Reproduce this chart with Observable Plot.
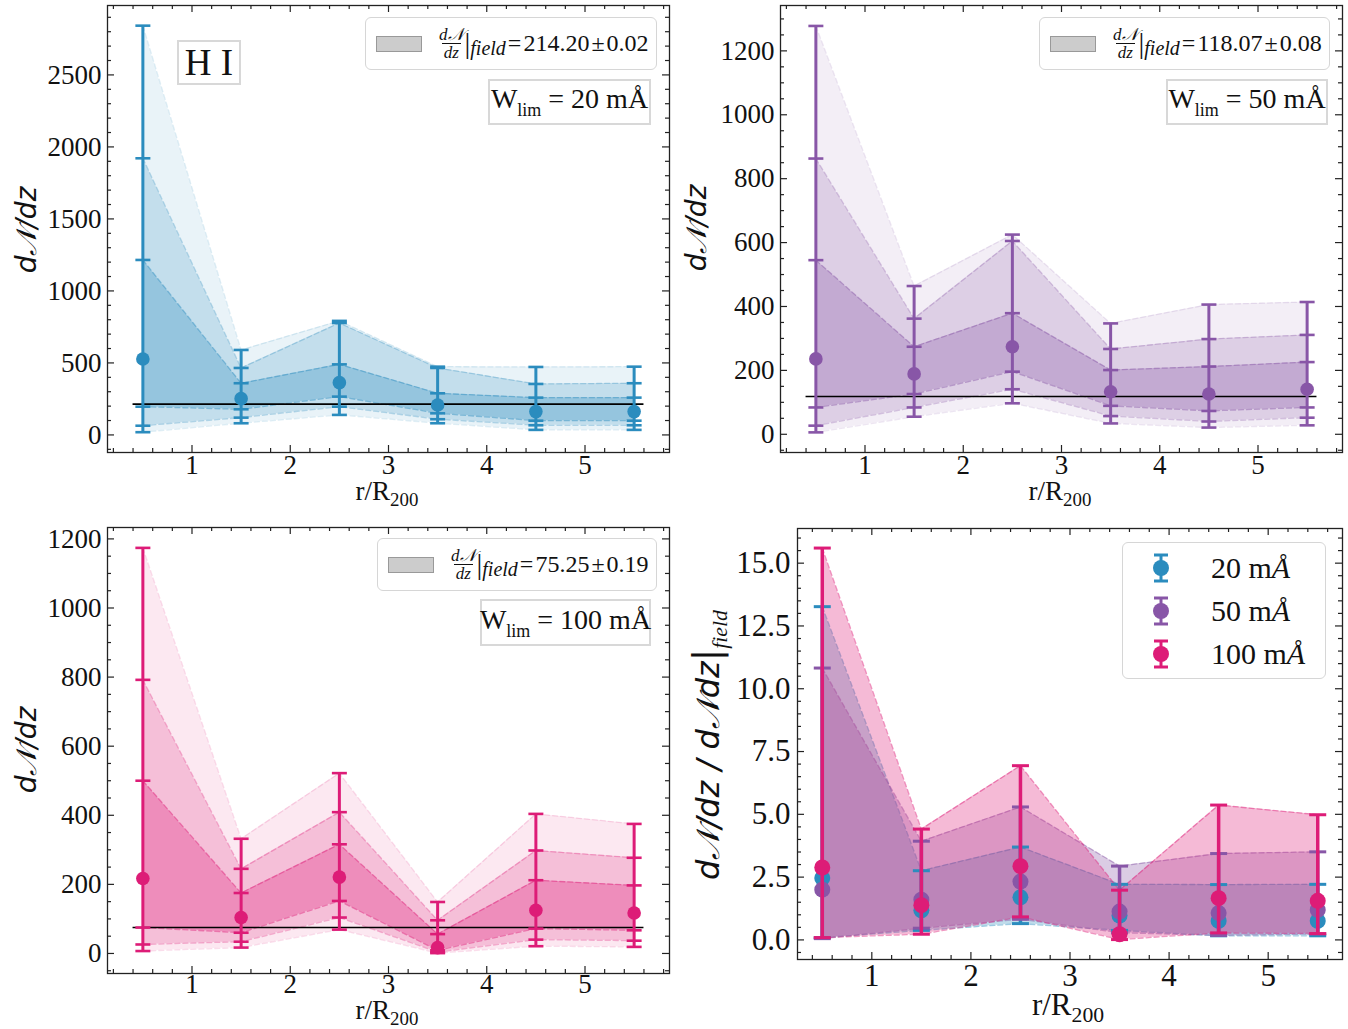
<!DOCTYPE html>
<html><head><meta charset="utf-8">
<script src="https://cdn.jsdelivr.net/npm/d3@7"></script>
<script src="https://cdn.jsdelivr.net/npm/@observablehq/plot@0.6"></script>
<style>
body{margin:0;background:#fff;}
#fig{position:relative;width:1348px;height:1029px;font-family:"Liberation Serif","DejaVu Serif",serif;color:#111;overflow:hidden;}
.panel{position:absolute;}
.ov{position:absolute;box-sizing:border-box;white-space:nowrap;}
.leg{border:1px solid #d6d6d6;border-radius:6px;background:rgba(255,255,255,0.85);display:flex;align-items:center;font-size:24px;}
.sw{display:inline-block;width:46px;height:16px;background:#cccccc;border:1px solid #999;box-sizing:border-box;margin-left:10px;margin-right:17px;}
.fr{display:inline-flex;flex-direction:column;align-items:center;font-size:17px;font-style:italic;line-height:17px;}
.fr .den{border-top:1.5px solid #111;padding:0 2px;}
.bar{font-size:29px;margin-left:1px;}
.fsub{font-style:italic;font-size:20px;position:relative;top:5px;margin-right:2px;}
.box{border:2px solid #d8d8d8;background:#fff;display:flex;align-items:center;justify-content:center;font-size:28px;}
.box sub{font-size:18px;vertical-align:-8px;}
.ylab{position:absolute;transform:translate(-50%,-50%) rotate(-90deg);font-family:"DejaVu Sans",sans-serif;font-style:italic;white-space:nowrap;line-height:1;}
.xlab{position:absolute;transform:translate(-50%,-50%);white-space:nowrap;line-height:1;}
.xlab sub{font-size:0.7em;vertical-align:-0.3em;line-height:1;}
.l4{border:1px solid #d6d6d6;border-radius:6px;background:rgba(255,255,255,0.85);}
.l4row{position:absolute;left:0;display:flex;align-items:center;font-size:30px;}
</style>
</head><body>
<div id="fig"></div>
<script>
// ---------------- data ----------------
const rBins = [0.5, 1.5, 2.5, 3.5, 4.5, 5.5];

// W_lim = 20 mÅ
const val20 = [527, 252, 363, 208, 162, 162];
const up1_20 = [1215, 359, 490, 289, 259, 259];
const up2_20 = [1921, 465, 777, 465, 354, 359];
const up3_20 = [2842, 590, 792, 474, 472, 474];
const lo1_20 = [196, 178, 266, 150, 99, 99];
const lo2_20 = [64, 120, 196, 109, 67, 67];
const lo3_20 = [19, 81, 139, 81, 35, 35];
const field20 = 214.20;

// W_lim = 50 mÅ
const val50 = [236, 189, 274, 133, 126, 141];
const up1_50 = [545, 274, 379, 201, 212, 226];
const up2_50 = [863, 362, 605, 267, 298, 311];
const up3_50 = [1278, 464, 625, 347, 406, 414];
const lo1_50 = [84, 126, 196, 89, 73, 84];
const lo2_50 = [27, 84, 141, 57, 40, 52];
const lo3_50 = [6, 55, 97, 34, 21, 28];
const field50 = 118.07;

// W_lim = 100 mÅ
const val100 = [217, 104, 221, 17, 125, 117];
const up1_100 = [500, 175, 316, 56, 212, 197];
const up2_100 = [792, 245, 409, 96, 298, 277];
const up3_100 = [1174, 332, 522, 149, 404, 375];
const lo1_100 = [75, 60, 152, 9, 72, 67];
const lo2_100 = [26, 34, 104, 4, 40, 37];
const lo3_100 = [7, 17, 69, 1, 21, 19];
const field100 = 75.25;

const fieldSpan = [0.4, 5.6];
const xTicks = [1, 2, 3, 4, 5];
const yTicks20 = [0, 500, 1000, 1500, 2000, 2500];
const yTicks50 = [0, 200, 400, 600, 800, 1000, 1200];
const yTicks100 = [0, 200, 400, 600, 800, 1000, 1200];
const yTicksRatio = [0, 2.5, 5, 7.5, 10, 12.5, 15];
const colors = {c20: "#2b8cbe", c50: "#8856a7", c100: "#dd1c77"};

// ---------------- helpers ----------------
function rows(v, l1, l2, l3, u1, u2, u3) {
  return rBins.map((r, i) => ({r, v: v[i], lo1: l1[i], lo2: l2[i], lo3: l3[i], up1: u1[i], up2: u2[i], up3: u3[i]}));
}
const s20 = rows(val20, lo1_20, lo2_20, lo3_20, up1_20, up2_20, up3_20);
const s50 = rows(val50, lo1_50, lo2_50, lo3_50, up1_50, up2_50, up3_50);
const s100 = rows(val100, lo1_100, lo2_100, lo3_100, up1_100, up2_100, up3_100);

const capSymbol = {draw(ctx, size) { const r = Math.sqrt(size / Math.PI); ctx.moveTo(-r, 0); ctx.lineTo(r, 0); }};

function minorRange(lo, hi, step, majors) {
  const out = [];
  for (let k = Math.ceil(lo / step); k * step <= hi; k++) {
    const v = +(k * step).toFixed(6);
    if (!majors.some(m => Math.abs(m - v) < 1e-9)) out.push(v);
  }
  return out;
}

function tickMarks(pw, ph, xDom, yDom, xMaj, yMaj, xStep, yStep) {
  const xMin = minorRange(xDom[0], xDom[1], xStep, xMaj);
  const yMin = minorRange(yDom[0], yDom[1], yStep, yMaj);
  const st = {stroke: "#222", strokeWidth: 1.2};
  const M = 7, m = 4;
  return [
    Plot.tickX(xMaj, {x: d => d, insetTop: ph - M, ...st}),
    Plot.tickX(xMaj, {x: d => d, insetBottom: ph - M, ...st}),
    Plot.tickX(xMin, {x: d => d, insetTop: ph - m, ...st}),
    Plot.tickX(xMin, {x: d => d, insetBottom: ph - m, ...st}),
    Plot.tickY(yMaj, {y: d => d, insetRight: pw - M, ...st}),
    Plot.tickY(yMaj, {y: d => d, insetLeft: pw - M, ...st}),
    Plot.tickY(yMin, {y: d => d, insetRight: pw - m, ...st}),
    Plot.tickY(yMin, {y: d => d, insetLeft: pw - m, ...st})
  ];
}

function bandMarks(data, color, levels, ops) {
  const out = [];
  levels.forEach((lv, i) => {
    const op = ops[i];
    out.push(Plot.areaY(data, {x: "r", y1: "lo" + lv, y2: "up" + lv, fill: color, fillOpacity: op}));
    out.push(Plot.lineY(data, {x: "r", y: "lo" + lv, stroke: color, strokeOpacity: op * 1.5, strokeWidth: 1.3, strokeDasharray: "5,3"}));
    out.push(Plot.lineY(data, {x: "r", y: "up" + lv, stroke: color, strokeOpacity: op * 1.5, strokeWidth: 1.3, strokeDasharray: "5,3"}));
  });
  return out;
}

function errMarks(data, color, capKeys, opt) {
  const caps = data.flatMap(d => capKeys.map(k => ({r: d.r, y: d[k]})));
  return [
    Plot.ruleX(data, {x: "r", y1: "lo3", y2: "up3", stroke: color, strokeWidth: opt.lw}),
    Plot.dot(caps, {x: "r", y: "y", symbol: capSymbol, r: opt.cap, fill: "none", stroke: color, strokeWidth: opt.cw}),
    Plot.dot(data, {x: "r", y: "v", r: opt.dot, fill: color, stroke: "none"})
  ];
}

function makePanel(cfg) {
  const pw = cfg.width - cfg.ml - cfg.mr, ph = cfg.height - cfg.mt - cfg.mb;
  const marks = [
    ...cfg.marks,
    Plot.frame({stroke: "#222", strokeWidth: 1.3}),
    ...tickMarks(pw, ph, cfg.xDomain, cfg.yDomain, xTicks, cfg.yTicks, 0.2, cfg.yMinor),
    Plot.axisX(xTicks, {anchor: "bottom", tickSize: 0, tickPadding: cfg.xPad, fontSize: cfg.fs, label: null, tickFormat: d => String(d)}),
    Plot.axisY(cfg.yTicks, {anchor: "left", tickSize: 0, tickPadding: cfg.yPad, fontSize: cfg.fs, label: null, tickFormat: cfg.yFormat})
  ];
  const svg = Plot.plot({
    width: cfg.width, height: cfg.height,
    marginLeft: cfg.ml, marginRight: cfg.mr, marginTop: cfg.mt, marginBottom: cfg.mb,
    x: {type: "linear", domain: cfg.xDomain, label: null},
    y: {type: "linear", domain: cfg.yDomain, label: null},
    style: {background: "transparent", fontFamily: "'Liberation Serif', 'DejaVu Serif', serif", color: "#111", overflow: "visible"},
    marks
  });
  const div = document.createElement("div");
  div.className = "panel";
  div.style.left = cfg.left + "px";
  div.style.top = cfg.top + "px";
  div.appendChild(svg);
  document.getElementById("fig").appendChild(div);
}

const errOpt = {lw: 3, cap: 7.5, cw: 2.6, dot: 6.8};
const bandOps = [0.1, 0.2, 0.3];

function singlePanel(data, color, field) {
  return [
    ...bandMarks(data, color, [3, 2, 1], bandOps),
    Plot.ruleY([field], {x1: fieldSpan[0], x2: fieldSpan[1], stroke: "#000", strokeWidth: 1.6}),
    ...errMarks(data, color, ["lo1", "lo2", "lo3", "up1", "up2", "up3"], errOpt)
  ];
}

// Panel 1
makePanel({left: 0, top: 0, width: 690, height: 515, ml: 107, mr: 21, mt: 5, mb: 63,
  xDomain: [0.14, 5.86], yDomain: [-122, 2982], yTicks: yTicks20, yMinor: 100, fs: 27, xPad: 2, yPad: 6,
  yFormat: d => String(d), marks: singlePanel(s20, colors.c20, field20)});
// Panel 2
makePanel({left: 690, top: 0, width: 658, height: 515, ml: 90, mr: 6, mt: 5, mb: 63,
  xDomain: [0.14, 5.86], yDomain: [-57, 1342], yTicks: yTicks50, yMinor: 50, fs: 27, xPad: 2, yPad: 6,
  yFormat: d => String(d), marks: singlePanel(s50, colors.c50, field50)});
// Panel 3
makePanel({left: 0, top: 515, width: 690, height: 514, ml: 107, mr: 21, mt: 12, mb: 56,
  xDomain: [0.14, 5.86], yDomain: [-58, 1233], yTicks: yTicks100, yMinor: 50, fs: 27, xPad: 0, yPad: 6,
  yFormat: d => String(d), marks: singlePanel(s100, colors.c100, field100)});

// Panel 4 : ratio to field
const ratio = (data, f) => data.map(d => ({r: d.r, v: d.v / f, lo3: d.lo3 / f, up3: d.up3 / f}));
const r20 = ratio(s20, field20), r50 = ratio(s50, field50), r100 = ratio(s100, field100);
const errOpt4 = {lw: 3.5, cap: 8.5, cw: 3, dot: 8};
makePanel({left: 690, top: 515, width: 658, height: 514, ml: 107, mr: 6, mt: 13, mb: 70,
  xDomain: [0.25, 5.75], yDomain: [-0.78, 16.38], yTicks: yTicksRatio, yMinor: 0.5, fs: 31, xPad: 4, yPad: 7,
  yFormat: d => d.toFixed(1),
  marks: [
    ...bandMarks(r20, colors.c20, [3], [0.3]),
    ...bandMarks(r50, colors.c50, [3], [0.3]),
    ...bandMarks(r100, colors.c100, [3], [0.3]),
    ...errMarks(r20, colors.c20, ["lo3", "up3"], errOpt4),
    ...errMarks(r50, colors.c50, ["lo3", "up3"], errOpt4),
    ...errMarks(r100, colors.c100, ["lo3", "up3"], errOpt4)
  ]});

// ---------------- text overlays ----------------
const fig = document.getElementById("fig");
function add(html) { fig.insertAdjacentHTML("beforeend", html); }
function fieldLegend(l, t, w, val) {
  add(`<div class="ov leg" style="left:${l}px;top:${t}px;width:${w}px;height:53px;">
    <span class="sw"></span><span class="fr"><span>d𝒩</span><span class="den">dz</span></span><span class="bar">|</span><span class="fsub">field</span><span>=&#8202;${val}</span></div>`);
}
fieldLegend(365, 17, 292, "214.20&#8202;±&#8202;0.02");
fieldLegend(1039, 17, 291, "118.07&#8202;±&#8202;0.08");
fieldLegend(377, 538, 280, "75.25&#8202;±&#8202;0.19");

add(`<div class="ov box" style="left:488px;top:79px;width:163px;height:46px;"><span>W<sub>lim</sub> = 20 mÅ</span></div>`);
add(`<div class="ov box" style="left:1166px;top:79px;width:162px;height:46px;"><span>W<sub>lim</sub> = 50 mÅ</span></div>`);
add(`<div class="ov box" style="left:480px;top:599px;width:171px;height:47px;"><span>W<sub>lim</sub> = 100 mÅ</span></div>`);
add(`<div class="ov box" style="left:177px;top:40px;width:64px;height:45px;font-size:37px;">H I</div>`);

add(`<div class="ylab" style="left:27px;top:230px;font-size:28px;">d𝒩/dz</div>`);
add(`<div class="ylab" style="left:697px;top:228px;font-size:28px;">d𝒩/dz</div>`);
add(`<div class="ylab" style="left:27px;top:750px;font-size:28px;">d𝒩/dz</div>`);
add(`<div class="ylab" style="left:707px;top:745px;font-size:32px;">d𝒩/dz / d𝒩dz<span style="font-style:normal;font-size:1.15em">|</span><span style="font-family:'Liberation Serif',serif;font-size:0.68em;position:relative;top:0.35em">field</span></div>`);

add(`<div class="xlab" style="left:387px;top:494px;font-size:27px;">r/R<sub>200</sub></div>`);
add(`<div class="xlab" style="left:1060px;top:494px;font-size:27px;">r/R<sub>200</sub></div>`);
add(`<div class="xlab" style="left:387px;top:1013px;font-size:27px;">r/R<sub>200</sub></div>`);
add(`<div class="xlab" style="left:1068px;top:1008px;font-size:31px;">r/R<sub>200</sub></div>`);

function errIcon(c) {
  return `<svg width="24" height="32" viewBox="0 0 24 32"><line x1="12" y1="3" x2="12" y2="29" stroke="${c}" stroke-width="3"/><line x1="5" y1="3" x2="19" y2="3" stroke="${c}" stroke-width="3"/><line x1="5" y1="29" x2="19" y2="29" stroke="${c}" stroke-width="3"/><circle cx="12" cy="16" r="8" fill="${c}"/></svg>`;
}
add(`<div class="ov l4" style="left:1122px;top:542px;width:204px;height:137px;">
  <div class="l4row" style="top:8px;"><span style="margin-left:26px;width:24px;height:32px">${errIcon(colors.c20)}</span><span style="margin-left:38px">20 m<i>Å</i></span></div>
  <div class="l4row" style="top:51px;"><span style="margin-left:26px;width:24px;height:32px">${errIcon(colors.c50)}</span><span style="margin-left:38px">50 m<i>Å</i></span></div>
  <div class="l4row" style="top:94px;"><span style="margin-left:26px;width:24px;height:32px">${errIcon(colors.c100)}</span><span style="margin-left:38px">100 m<i>Å</i></span></div>
</div>`);
</script>
</body></html>
